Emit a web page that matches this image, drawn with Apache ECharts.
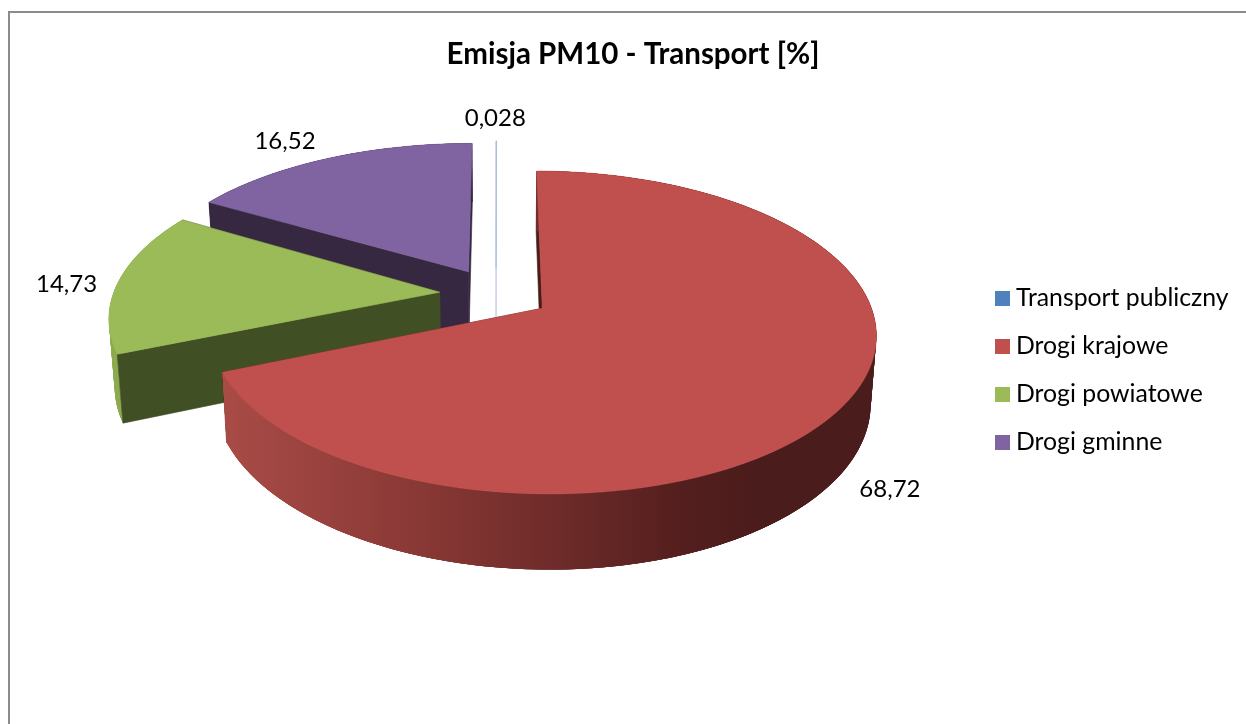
<!DOCTYPE html>
<html>
<head>
<meta charset="utf-8">
<style>html,body{margin:0;padding:0;background:#fff}#c{width:1246px;height:724px}</style>
<script src="https://cdn.jsdelivr.net/npm/echarts@6/dist/echarts.min.js"></script>
</head>
<body>
<div id="c"></div>
<script>
// ---- data ----
const chartTitle = 'Emisja PM10 - Transport [%]';
const categories = ['Transport publiczny', 'Drogi krajowe', 'Drogi powiatowe', 'Drogi gminne'];
const values = [0.028, 68.72, 14.73, 16.52];
const valueLabels = ['0,028', '68,72', '14,73', '16,52'];

// ---- styles ----
const topColors = ['#A6BAD8', '#C0504D', '#9BBB59', '#8064A2'];
const legendColors = ['#4F81BD', '#C0504D', '#9BBB59', '#8064A2'];
const cutColors = ['#C6D2E4', '#4A1C1A', '#414F25', '#362840'];
const rimColors = ['#C6D2E4', null, '#8DAA50', '#4A3560'];
const paintZ = [2, 4, 3, 1];
const cutOverRim = [true, false, true, true];
const labelOffsets = [[-1, -23], [45, 85], [-52, 3], [-43, -17]];
const sliceExplode = [0.17, 0.165, 0.17, 0.17];
const sliceWidth = [1, 0.975, 0.98, 1];

// ---- projection of the tilted, exploded pie ----
const view = {x0: 496, y0: 294, rx: 333, ry: 153.5, k: 0.148, depth: 66, baseShrink: 0.985};
const total = values.reduce((a, b) => a + b, 0);
function sliceAngles(i) {
  let before = 0;
  for (let j = 0; j < i; j++) before += values[j];
  return [before / total * 2 * Math.PI, (before + values[i]) / total * 2 * Math.PI];
}
function project(i, radius, theta, lower) {
  const [a0, a1] = sliceAngles(i);
  const mid = (a0 + a1) / 2;
  const e = sliceExplode[i];
  const wx = e * Math.sin(mid) + radius * sliceWidth[i] * Math.sin(theta);
  const wy = -e * Math.cos(mid) - radius * Math.cos(theta);
  const s = 1 / (1 - view.k * wy);
  const b = lower ? view.baseShrink : 1;
  return [
    view.x0 + view.rx * wx * s * b,
    view.y0 + view.ry * wy * s * b + (lower ? view.depth * s : 0)
  ];
}
function rim(i, lower) {
  const [a0, a1] = sliceAngles(i);
  const n = Math.max(2, Math.ceil((a1 - a0) / (Math.PI / 180)));
  const pts = [];
  for (let t = 0; t <= n; t++) pts.push(project(i, 1, a0 + (a1 - a0) * t / n, lower));
  return pts;
}
const redWall = new echarts.graphic.LinearGradient(225, 0, 760, 0, [
  {offset: 0, color: '#A94B47'},
  {offset: 0.35, color: '#8A3936'},
  {offset: 0.6, color: '#702C2A'},
  {offset: 0.85, color: '#541F1E'},
  {offset: 1, color: '#4A1C1B'}
], true);

function renderSlice(i) {
  return function (params, api) {
    const [a0, a1] = sliceAngles(i);
    const top = rim(i, false), low = rim(i, true);
    const apexT = project(i, 0, 0, false), apexL = project(i, 0, 0, true);
    const poly = (points, fill) => ({
      type: 'polygon', shape: {points},
      style: {fill, stroke: fill, lineWidth: 0.6}
    });
    const patch = (points, fill) => ({type: 'polygon', shape: {points}, style: {fill}});
    const cuts = [
      poly([apexT, top[0], low[0], apexL], cutColors[i]),
      poly([apexT, top[top.length - 1], low[low.length - 1], apexL], cutColors[i])
    ];
    const wallFill = i === 1 ? redWall : rimColors[i];
    const wall = [patch(top.concat(low.slice().reverse()), wallFill)];
    for (let t = 0; t + 1 < top.length; t++) {
      const e = Math.min(t + 3, top.length - 1);
      wall.push(patch([top[t], top[e], low[e], low[t]], wallFill));
    }
    const children = cutOverRim[i] ? wall.concat(cuts) : cuts.concat(wall);
    children.push(poly([apexT].concat(top), topColors[i]));
    const mid = (a0 + a1) / 2;
    const p = project(i, 1, mid, false);
    children.push({
      type: 'text', z2: 10,
      style: {
        text: valueLabels[i], x: p[0] + labelOffsets[i][0], y: p[1] + labelOffsets[i][1],
        fontFamily: 'Lato', fontSize: 24, fill: '#000',
        align: 'center', verticalAlign: 'middle'
      }
    });
    return {type: 'group', children};
  };
}

const chart = echarts.init(document.getElementById('c'), null, {renderer: 'canvas'});
chart.setOption({
  animation: false,
  backgroundColor: '#ffffff',
  title: {
    text: chartTitle, left: 628, top: 34, textAlign: 'center',
    textStyle: {fontFamily: 'Lato', fontWeight: 'bold', fontSize: 29.5, color: '#000'}
  },
  legend: {
    orient: 'vertical', left: 990, top: 281, icon: 'rect', itemWidth: 15, itemHeight: 15,
    itemGap: 23, data: categories, selectedMode: false,
    textStyle: {fontFamily: 'Lato', fontSize: 24.8, color: '#000', padding: [0, 0, 0, 1]}
  },
  graphic: [{
    type: 'polyline', silent: true,
    shape: {points: [[9, 724], [9, 12], [1246, 12]]},
    style: {stroke: '#8C8C8C', lineWidth: 2, fill: 'none'}
  }],
  series: categories.map((name, i) => ({
    type: 'custom', name, coordinateSystem: 'none', z: paintZ[i], silent: true,
    itemStyle: {color: legendColors[i]},
    data: [[values[i]]],
    renderItem: renderSlice(i)
  }))
});
</script>
</body>
</html>
